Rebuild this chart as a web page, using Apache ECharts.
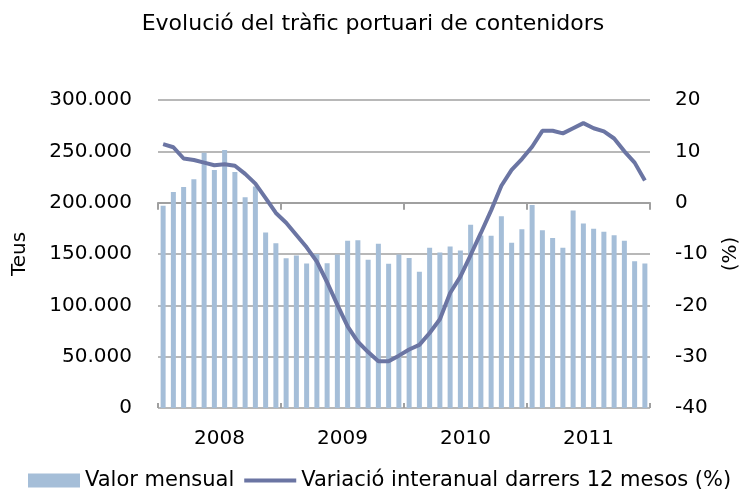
<!DOCTYPE html>
<html>
<head>
<meta charset="utf-8">
<script src="https://cdn.jsdelivr.net/npm/echarts@6/dist/echarts.min.js"></script>
<style>
html, body { margin: 0; padding: 0; background: #fff; }
#chart { width: 746px; height: 490px; }
</style>
</head>
<body>
<div id="chart"></div>
<script>
var years = ['2008', '2009', '2010', '2011'];
var months = [];
years.forEach(function (y) {
    for (var m = 1; m <= 12; m++) months.push(y + '-' + m);
});

// Valor mensual (TEUs)
var valorMensual = [
    197000, 210500, 215300, 222800, 248700, 231900, 251300, 229900, 205300, 215700, 170900, 160500,
    145900, 148500, 140700, 150000, 141000, 149500, 163000, 163400, 144300, 159900, 140400, 149500,
    146000, 132600, 156000, 151400, 157300, 153400, 178400, 168000, 167700, 186800, 160900, 174200,
    197800, 173200, 165700, 156000, 192300, 179700, 174500, 171600, 168300, 162800, 143000, 140700
];

// Variació interanual darrers 12 mesos (%)
var variacio = [
    11.4, 10.8, 8.6, 8.3, 7.8, 7.3, 7.5, 7.2, 5.6, 3.7, 0.9, -2.0,
    -3.9, -6.3, -8.7, -11.5, -15.5, -19.9, -24.1, -27.1, -29.1, -30.9, -30.9, -29.8,
    -28.6, -27.7, -25.4, -22.7, -17.6, -14.4, -10.2, -5.9, -1.5, 3.3, 6.4, 8.5,
    10.9, 14.0, 14.0, 13.5, 14.5, 15.5, 14.5, 13.9, 12.5, 10.0, 7.8, 4.3
];

var font = 'DejaVu Sans';
var gridColor = '#a0a0a0';
var chart = echarts.init(document.getElementById('chart'));

var option = {
    textStyle: { fontFamily: font },
    title: {
        text: 'Evolució del tràfic portuari de contenidors',
        left: 'center',
        top: 8,
        textStyle: { fontFamily: font, fontSize: 22, fontWeight: 'normal', color: '#000' }
    },
    legend: {
        left: 23,
        top: 465,
        itemGap: 10,
        itemWidth: 52,
        itemHeight: 14,
        textStyle: { fontFamily: font, fontSize: 21, color: '#000' },
        data: [
            { name: 'Valor mensual', icon: 'rect' },
            { name: 'Variació interanual darrers 12 mesos (%)', icon: 'path://M0,0 L52,0 L52,4 L0,4 Z' }
        ]
    },
    grid: { left: 158, right: 96, top: 100, bottom: 82, containLabel: false, outerBoundsMode: 'none' },
    xAxis: [{
        type: 'category',
        data: months,
        show: false
    }, {
        type: 'category',
        data: years,
        position: 'bottom',
        axisLine: { lineStyle: { color: gridColor, width: 2 } },
        axisTick: { show: true, interval: 0, length: 7, lineStyle: { color: gridColor, width: 2 } },
        axisLabel: { fontSize: 20, color: '#000', margin: 21, fontFamily: font }
    }, {
        type: 'category',
        data: years,
        position: 'bottom',
        axisLine: { show: false },
        axisTick: { show: true, inside: true, interval: 0, length: 5, lineStyle: { color: gridColor, width: 2 } },
        axisLabel: { show: false }
    }],
    yAxis: [{
        type: 'value',
        min: 0,
        max: 300000,
        interval: 50000,
        name: 'Teus',
        nameLocation: 'middle',
        nameRotate: 90,
        nameGap: 128,
        nameTextStyle: { fontSize: 20, color: '#000', fontFamily: font },
        axisLine: { show: false },
        axisTick: { show: false },
        splitLine: { lineStyle: { color: gridColor, width: 1.5 } },
        axisLabel: {
            fontSize: 20,
            color: '#000',
            margin: 26,
            fontFamily: font,
            formatter: function (v) {
                return String(v).replace(/\B(?=(\d{3})+(?!\d))/g, '.');
            }
        }
    }, {
        type: 'value',
        min: -40,
        max: 20,
        interval: 10,
        name: '(%)',
        nameLocation: 'middle',
        nameRotate: 90,
        nameGap: 71,
        nameTextStyle: { fontSize: 20, color: '#000', fontFamily: font },
        axisLine: { show: false },
        axisTick: { show: false },
        splitLine: { show: false },
        axisLabel: { fontSize: 20, color: '#000', margin: 25, fontFamily: font }
    }],
    series: [{
        name: 'Valor mensual',
        type: 'bar',
        xAxisIndex: 0,
        yAxisIndex: 0,
        barWidth: 5,
        itemStyle: { color: '#a5bed8' },
        data: valorMensual
    }, {
        name: 'Variació interanual darrers 12 mesos (%)',
        type: 'line',
        xAxisIndex: 0,
        yAxisIndex: 1,
        symbol: 'none',
        lineStyle: { color: '#6b75a3', width: 4 },
        itemStyle: { color: '#6b75a3' },
        data: variacio
    }]
};

chart.setOption(option);
</script>
</body>
</html>
